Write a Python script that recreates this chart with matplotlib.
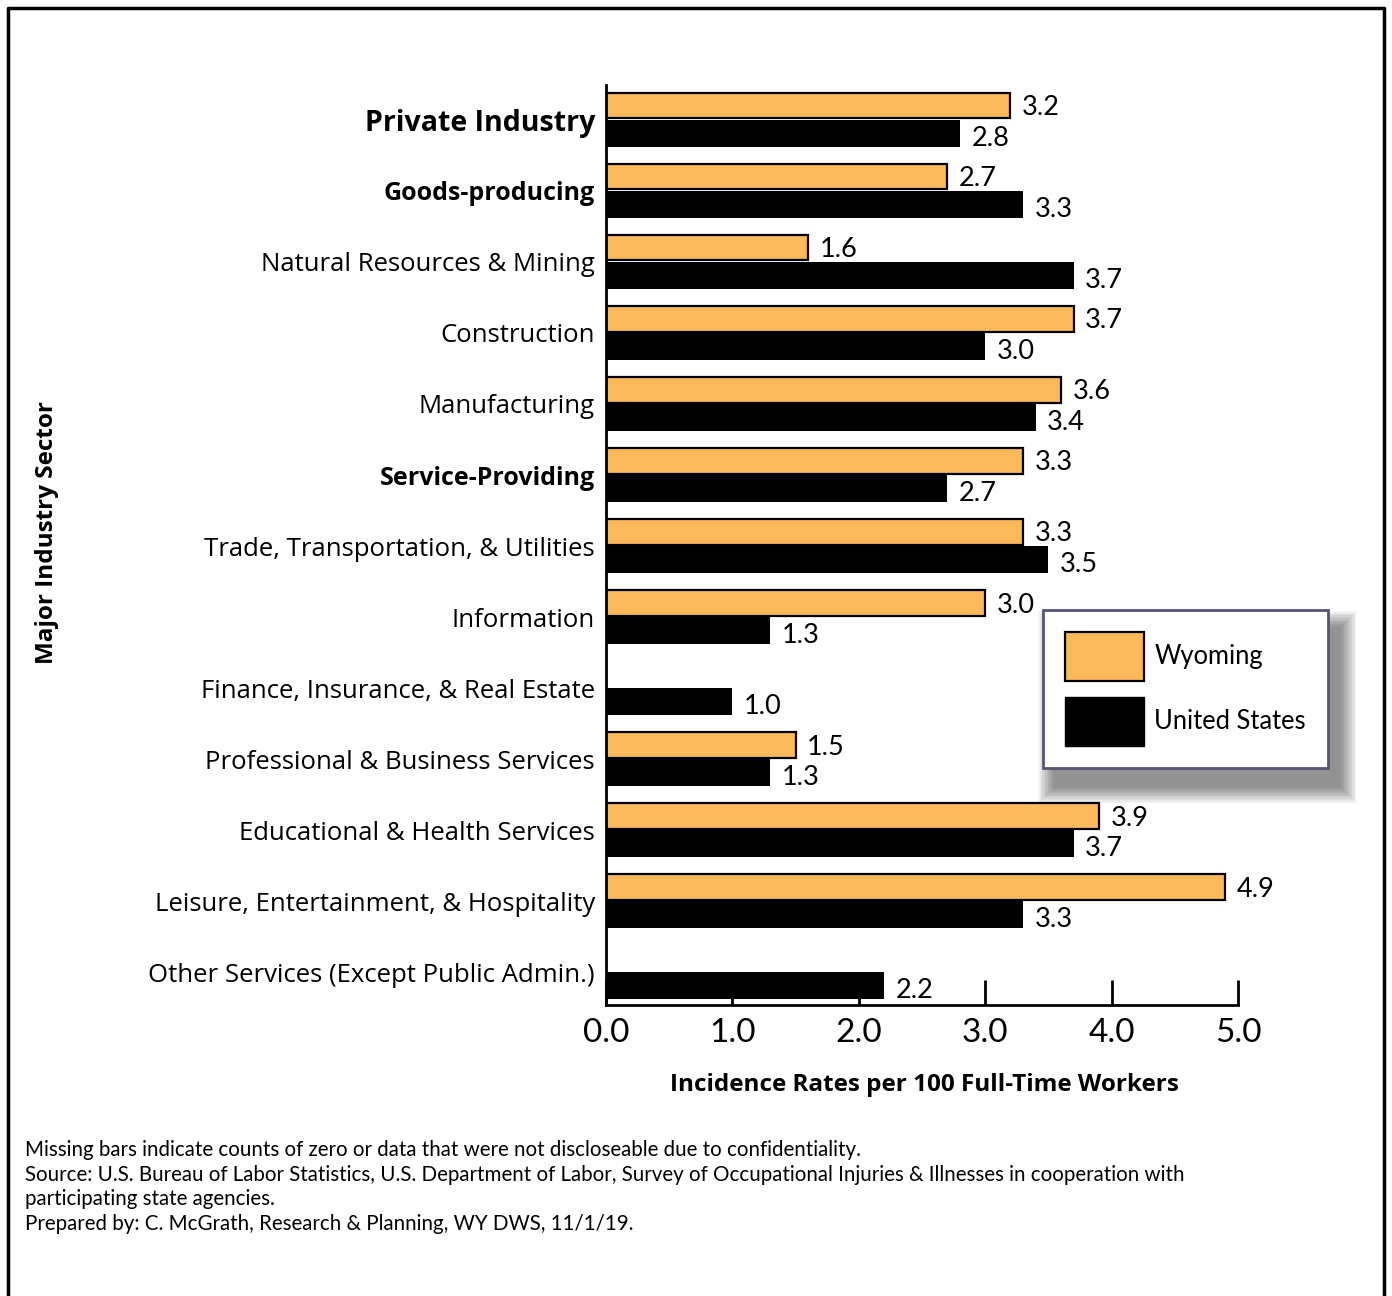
import numpy as np
import matplotlib.pyplot as plt
import matplotlib.patches as mpatches

# categories, top to bottom
sectors = ["Private Industry", "Goods-producing", "Natural Resources & Mining",
           "Construction", "Manufacturing", "Service-Providing",
           "Trade, Transportation, & Utilities", "Information",
           "Finance, Insurance, & Real Estate", "Professional & Business Services",
           "Educational & Health Services", "Leisure, Entertainment, & Hospitality",
           "Other Services (Except Public Admin.)"]
bold_sectors = ["Private Industry", "Goods-producing", "Service-Providing"]
wyoming = [3.2, 2.7, 1.6, 3.7, 3.6, 3.3, 3.3, 3.0, None, 1.5, 3.9, 4.9, None]
us = [2.8, 3.3, 3.7, 3.0, 3.4, 2.7, 3.5, 1.3, 1.0, 1.3, 3.7, 3.3, 2.2]
xticks = [0, 1, 2, 3, 4, 5]

orange = "#FBB95B"
font = "Open Sans"
narrow = "Lato"

fig = plt.figure(figsize=(13.92, 12.96), dpi=100)
ax = fig.add_axes([606 / 1392, 1 - 1005 / 1296, (1238 - 606) / 1392, 920 / 1296])

y = np.arange(len(sectors))
wy_vals = [v if v is not None else 0 for v in wyoming]
wy_bars = ax.barh(y - 0.2, wy_vals, height=0.36, color=orange,
                  edgecolor="black", linewidth=1.6)
us_bars = ax.barh(y + 0.19, us, height=0.38, color="black")

for i, v in enumerate(wyoming):
    if v is None:
        wy_bars[i].set_visible(False)
        continue
    ax.text(v + 0.09, i - 0.17, f"{v:.1f}", va="center", ha="left",
            fontsize=19.5, family=narrow)
for i, v in enumerate(us):
    ax.text(v + 0.09, i + 0.26, f"{v:.1f}", va="center", ha="left",
            fontsize=19.5, family=narrow)

ax.set_xlim(0, 5)
ax.set_ylim(12.46, -0.49)
ax.set_yticks(y)
ax.set_yticklabels(sectors)
for lbl in ax.get_yticklabels():
    lbl.set_family(font)
    if lbl.get_text() in bold_sectors:
        lbl.set_fontweight("bold")
        lbl.set_fontsize(20.5 if lbl.get_text() == "Private Industry" else 18)
    else:
        lbl.set_fontsize(18.5)
ax.tick_params(axis="y", length=0, pad=8)

ax.set_xticks(xticks)
ax.set_xticklabels([f"{t:.1f}" for t in xticks], family=narrow, fontsize=24)
ax.tick_params(axis="x", direction="in", length=18, width=2, pad=9)

for s in ["top", "right"]:
    ax.spines[s].set_visible(False)
for s in ["left", "bottom"]:
    ax.spines[s].set_linewidth(2)

fig.text(924 / 1392, 1 - 1085 / 1296, "Incidence Rates per 100 Full-Time Workers",
         ha="center", va="center", fontsize=17.5, fontweight="bold", family=font)
fig.text(47 / 1392, 1 - 532 / 1296, "Major Industry Sector", rotation=90,
         ha="center", va="center", fontsize=17.5, fontweight="bold", family=font)

handles = [mpatches.Patch(facecolor=orange, edgecolor="black", linewidth=1.6, label="Wyoming"),
           mpatches.Patch(facecolor="black", edgecolor="black", label="United States")]
leg = fig.legend(handles=handles, loc="upper left",
                 bbox_to_anchor=(1043 / 1392, 1 - 610 / 1296), borderaxespad=0,
                 fancybox=False, prop={"family": narrow, "size": 18.4},
                 handlelength=3.1, handleheight=2.6, labelspacing=0.62,
                 handletextpad=0.4, borderpad=0.85, framealpha=1)
leg.get_frame().set_edgecolor("#555577")
leg.get_frame().set_linewidth(2)
leg.set_zorder(10)

# soft shadow behind the legend box
fig.canvas.draw()
bb = leg.get_window_extent().transformed(fig.transFigure.inverted())
W, H = fig.get_size_inches() * fig.dpi
for k in range(12):
    grow = (12 - k) * 1.4
    fig.add_artist(mpatches.Rectangle(
        ((bb.x0 * W + 12 - grow) / W, (bb.y0 * H - 18 - grow) / H),
        (bb.width * W + 2 * grow) / W, (bb.height * H + 2 * grow) / H,
        transform=fig.transFigure, facecolor="black", edgecolor="none",
        alpha=0.045, zorder=5))

footer = ("Missing bars indicate counts of zero or data that were not discloseable due to confidentiality.\n"
          "Source: U.S. Bureau of Labor Statistics, U.S. Department of Labor, Survey of Occupational Injuries & Illnesses in cooperation with\n"
          "participating state agencies.\n"
          "Prepared by: C. McGrath, Research & Planning, WY DWS, 11/1/19.")
fig.text(25 / 1392, 1 - 1140 / 1296, footer, ha="left", va="top",
         fontsize=14.8, family=narrow, linespacing=1.29)

# outer border
fig.add_artist(plt.Line2D([8 / 1392, 8 / 1392, 1384 / 1392, 1384 / 1392],
                          [0, 1 - 8 / 1296, 1 - 8 / 1296, 0],
                          transform=fig.transFigure, color="black", linewidth=2.5))

fig.savefig("out.png", dpi=100)
